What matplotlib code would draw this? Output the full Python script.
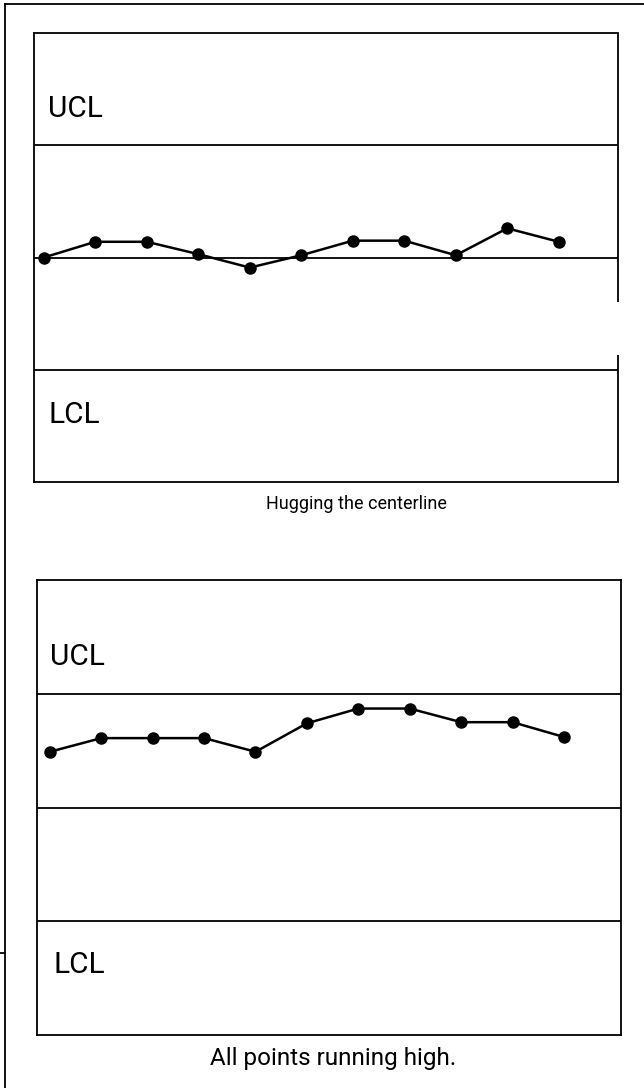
"""Two control-chart sketches: points hugging the centerline / all running high."""

import matplotlib
matplotlib.use("Agg")
import matplotlib.pyplot as plt  # noqa: E402
from matplotlib.lines import Line2D  # noqa: E402

# --------------------------------------------------------------------------- data
samples = list(range(1, 12))
hugging = [0.00, 0.14, 0.14, 0.03, -0.09, 0.02, 0.15, 0.15, 0.02, 0.26, 0.14]
running_high = [0.49, 0.61, 0.61, 0.61, 0.49, 0.74, 0.87, 0.87, 0.75, 0.75, 0.62]
limits = {"UCL": 1.0, "center": 0.0, "LCL": -1.0}
captions = ["Hugging the centerline", "All points running high."]

# --------------------------------------------------------------------------- layout
W, H = 644, 1088
FONT = ["Liberation Sans Narrow", "Roboto", "DejaVu Sans"]
LW = 1.3


def px_axes(fig, left, top, right, bottom):
    return fig.add_axes([left / W, 1 - bottom / H, (right - left) / W, (bottom - top) / H])


def draw_panel(ax, values, xlim, ucl_pos, lcl_pos):
    ax.set_xlim(*xlim)
    ax.set_ylim(-2, 2)
    for y in limits.values():
        ax.axhline(y, color="black", lw=LW)
    ax.plot(samples, values, color="black", lw=1.8, marker="o", ms=9,
            markeredgewidth=0, zorder=3)
    ax.set_xticks([])
    ax.set_yticks([])
    for s in ax.spines.values():
        s.set_linewidth(LW)
    for label, pos in (("UCL", ucl_pos), ("LCL", lcl_pos)):
        ax.text(*pos, label, transform=ax.transAxes, family=FONT, fontsize=21.5,
                fontstretch="condensed", va="baseline", ha="left")


fig = plt.figure(figsize=(W / 100, H / 100), dpi=100)

ax1 = px_axes(fig, 34, 33, 618, 482)
draw_panel(ax1, hugging, (1 - 0.19, 11 + 1.15), (0.024, 0.813), (0.024, 0.131))
# scanned right edge has a short gap
ax1.spines["right"].set_visible(False)
for y0, y1 in [(0.0, 0.283), (0.401, 1.0)]:
    ax1.plot([1, 1], [y0, y1], transform=ax1.transAxes, color="black", lw=LW,
             clip_on=False, solid_capstyle="butt")

ax2 = px_axes(fig, 37, 580, 621, 1035)
draw_panel(ax2, running_high, (1 - 0.25, 11 + 1.11), (0.022, 0.813), (0.029, 0.136))

fig.text(356 / W, 1 - 509 / H, captions[0], family=FONT, fontsize=13,
         fontstretch="condensed", ha="center", va="baseline")
fig.text(333 / W, 1 - 1065 / H, captions[1], family=FONT, fontsize=17.5,
         fontstretch="condensed", ha="center", va="baseline")

# outer frame of the scanned page
fig.add_artist(Line2D([5 / W, 5 / W], [1 - 4 / H, 0], color="black", lw=LW))
fig.add_artist(Line2D([5 / W, 1], [1 - 4 / H, 1 - 4 / H], color="black", lw=LW))
fig.add_artist(Line2D([0, 5 / W], [1 - 953 / H, 1 - 953 / H], color="black", lw=LW))

fig.savefig("out.png", dpi=100, facecolor="white")
